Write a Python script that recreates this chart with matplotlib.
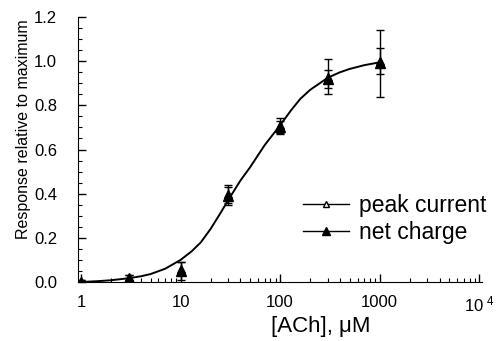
import matplotlib
matplotlib.use("Agg")
import matplotlib.pyplot as plt
from matplotlib.lines import Line2D
from matplotlib.ticker import FixedLocator, LogLocator, MultipleLocator, NullFormatter

plt.rcParams['font.family'] = ['Liberation Sans', 'DejaVu Sans']
plt.rcParams['mathtext.fontset'] = 'custom'
plt.rcParams['mathtext.rm'] = 'Liberation Sans'

# concentrations (uM)
conc = [1, 3, 10, 30, 100, 300, 1000]

# peak current (open triangles)
peak = [0.0, 0.02, 0.06, 0.40, 0.71, 0.93, 1.0]
peak_err = [0.01, 0.01, 0.03, 0.04, 0.035, 0.08, 0.06]

# net charge (filled triangles)
charge = [0.0, 0.02, 0.05, 0.39, 0.70, 0.92, 0.99]
charge_err = [0.01, 0.01, 0.04, 0.04, 0.03, 0.04, 0.15]

# fitted curve
curve_x = [1, 1.5, 2, 3, 4, 5, 7, 10, 13, 16, 20, 25, 30, 40, 50, 70,
           100, 130, 160, 200, 250, 300, 400, 500, 700, 1000]
curve_y = [0.0, 0.004, 0.008, 0.017, 0.026, 0.036, 0.06, 0.10, 0.14, 0.18,
           0.24, 0.31, 0.37, 0.46, 0.52, 0.62, 0.71, 0.78, 0.83, 0.87,
           0.90, 0.925, 0.95, 0.965, 0.982, 0.995]

xticks = [1, 10, 100, 1000, 10000]
xtick_labels = ['1', '10', '100', '1000', r'$\mathregular{10^{\ 4}}$']

fig = plt.figure(figsize=(4.96, 3.41), dpi=100)
ax = fig.add_axes([0.157, 0.173, 0.815, 0.777])

ax.plot(curve_x, curve_y, color='black', lw=1.4, zorder=2)

ax.errorbar(conc, peak, yerr=peak_err, fmt='^', color='black', mfc='white',
            ms=6, elinewidth=1, capsize=3, capthick=1, zorder=3)
ax.errorbar(conc, charge, yerr=charge_err, fmt='^', color='black', mfc='black',
            ms=7.5, elinewidth=1, capsize=3, capthick=1, zorder=4)

ax.set_xscale('log')
ax.set_xlim(0.93, 1.07e4)
ax.set_ylim(0, 1.2)

ax.xaxis.set_major_locator(FixedLocator(xticks))
ax.set_xticklabels(xtick_labels)
ax.xaxis.set_minor_locator(LogLocator(base=10, subs=range(2, 10)))
ax.xaxis.set_minor_formatter(NullFormatter())
ax.yaxis.set_major_locator(MultipleLocator(0.2))
ax.yaxis.set_minor_locator(MultipleLocator(0.05))
ax.set_yticklabels(['%.1f' % v for v in ax.get_yticks()])

ax.spines['top'].set_visible(False)
ax.spines['right'].set_visible(False)
ax.tick_params(which='major', direction='in', length=6, width=1, labelsize=12)
ax.tick_params(which='minor', direction='in', length=3, width=0.8)
ax.tick_params(axis='y', which='major', pad=15)
ax.tick_params(axis='x', which='major', pad=9)

ax.set_ylabel('Response relative to maximum', fontsize=11.5)
ax.yaxis.set_label_coords(-0.115, 0.575)
ax.set_xlabel('[ACh], μM', fontsize=16)
ax.xaxis.set_label_coords(0.6, -0.13)

handles = [
    Line2D([], [], color='black', lw=1, marker='^', mfc='white', ms=5),
    Line2D([], [], color='black', lw=1, marker='^', mfc='black', ms=6),
]
fig.legend(handles, ['peak current', 'net charge'], loc='center left',
           bbox_to_anchor=(0.588, 0.358), frameon=False, fontsize=16.5,
           handlelength=2.0, handletextpad=0.45, labelspacing=0.2, borderpad=0)

fig.savefig('out.png', dpi=100)
